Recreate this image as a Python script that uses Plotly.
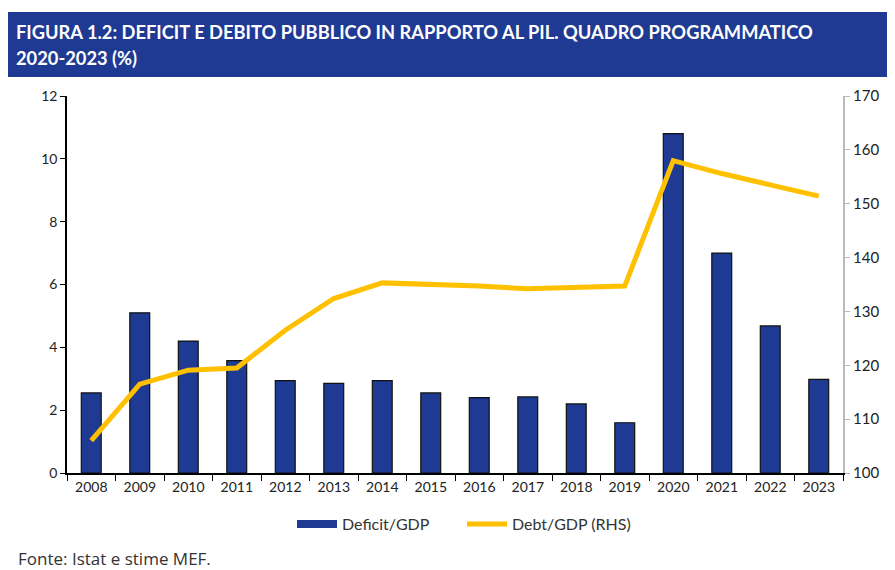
import plotly.graph_objects as go

years = [str(y) for y in range(2008, 2024)]
deficit = [2.55, 5.1, 4.2, 3.58, 2.94, 2.85, 2.94, 2.55, 2.4, 2.42, 2.2, 1.6, 10.8, 7.0, 4.68, 2.98]
debt = [106.0, 116.5, 119.1, 119.5, 126.5, 132.4, 135.3, 135.1, 134.7, 134.2, 134.4, 134.7, 158.0, 155.6, 153.5, 151.4]

title_lines = ["FIGURA 1.2: DEFICIT E DEBITO PUBBLICO IN RAPPORTO AL PIL. QUADRO PROGRAMMATICO",
               "2020-2023 (%)"]
source = "Fonte: Istat e stime MEF."

OFF = 8  # default page body margin
WIN_W, WIN_H = 895, 570
L, R, T, B = 67, 843, 96, 473  # plot area in window pixels

def px(x):
    return (x - L) / (R - L)

def py(y):
    return (B - y) / (B - T)

text_family = "Lato, Liberation Sans, Arial, sans-serif"
tick_font = dict(family=text_family, size=14, color="#222222")
navy = "#1F3A93"

fig = go.Figure()
fig.add_trace(go.Bar(x=years, y=deficit, name="Deficit/GDP", showlegend=False,
                     marker=dict(color=navy, line=dict(color="#111111", width=1.2)),
                     width=0.41, yaxis="y"))
# legend entry drawn as a wide rectangle like the reference
fig.add_trace(go.Scatter(x=[None], y=[None], name="Deficit/GDP", mode="lines",
                         line=dict(color=navy, width=8), yaxis="y"))
fig.add_trace(go.Scatter(x=years, y=debt, name="Debt/GDP (RHS)", mode="lines",
                         line=dict(color="#FFC000", width=5), yaxis="y2"))

fig.update_layout(
    width=WIN_W - OFF, height=WIN_H - OFF,
    margin=dict(l=L - OFF, r=WIN_W - R, t=T - OFF, b=WIN_H - B),
    paper_bgcolor="white", plot_bgcolor="white",
    showlegend=True,
    legend=dict(orientation="h", x=px(462), xanchor="center", y=py(524), yanchor="middle",
                font=dict(family=text_family, size=16, color="#333333"),
                itemwidth=40, tracegroupgap=0, entrywidth=115, entrywidthmode="pixels"),
    xaxis=dict(type="category", showgrid=False, showline=True, linecolor="#000000", linewidth=1.5,
               ticks="outside", tickson="boundaries", ticklen=6, tickcolor="#000000", tickfont=tick_font),
    yaxis=dict(range=[0, 12], dtick=2, showgrid=False, showline=True, linecolor="#000000", linewidth=1.5,
               ticks="outside", ticklen=5, tickcolor="#000000", tickfont=tick_font, zeroline=False),
    yaxis2=dict(range=[100, 170], dtick=10, overlaying="y", side="right", showgrid=False, showline=True,
                linecolor="#BBBBBB", linewidth=2, ticks="outside", ticklen=5, tickcolor="#BBBBBB",
                tickfont=dict(family=text_family, size=15, color="#222222"), zeroline=False),
    bargap=0.5,
)

fig.add_shape(type="rect", xref="paper", yref="paper", x0=px(5), x1=px(900), y0=py(77), y1=py(12),
              fillcolor=navy, line=dict(width=0), layer="above")
fig.add_annotation(xref="paper", yref="paper", x=px(14), y=py(32), xanchor="left", yanchor="middle",
                   text="<b>" + title_lines[0] + "</b>", showarrow=False,
                   font=dict(family=text_family, size=18.3, color="white"))
fig.add_annotation(xref="paper", yref="paper", x=px(14), y=py(58), xanchor="left", yanchor="middle",
                   text="<b>" + title_lines[1] + "</b>", showarrow=False,
                   font=dict(family=text_family, size=18.3, color="white"))
fig.add_annotation(xref="paper", yref="paper", x=px(16), y=py(558), xanchor="left", yanchor="middle",
                   text=source, showarrow=False,
                   font=dict(family="Open Sans, Liberation Sans, Arial, sans-serif", size=17, color="#333333"))

fig.write_html("out.html")
